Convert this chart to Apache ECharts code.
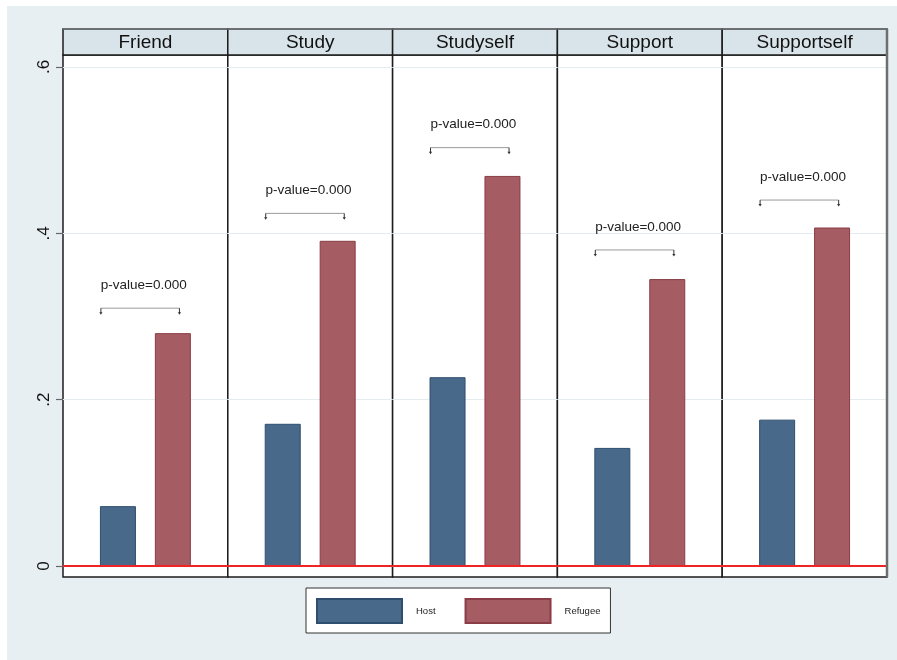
<!DOCTYPE html>
<html>
<head>
<meta charset="utf-8">
<script src="https://cdn.jsdelivr.net/npm/echarts@6/dist/echarts.min.js"></script>
<style>
  html, body { margin: 0; padding: 0; background: #ffffff; }
  #chart { width: 897px; height: 660px; }
</style>
</head>
<body>
<div id="chart"></div>
<script>
// Panels, one per support measure
const categories = ['Friend', 'Study', 'Studyself', 'Support', 'Supportself'];
// Group shares (Host vs Refugee)
const hostValues = [0.072, 0.171, 0.227, 0.142, 0.176];
const refugeeValues = [0.280, 0.391, 0.469, 0.345, 0.407];
// Height of the significance bracket above each pair, and its label
const bracketHeights = [0.310, 0.424, 0.503, 0.380, 0.440];
const bracketLabels = ['p-value=0.000', 'p-value=0.000', 'p-value=0.000', 'p-value=0.000', 'p-value=0.000'];
// Y axis ticks
const yTicks = [0, 0.2, 0.4, 0.6];
const yTickLabels = ['0', '.2', '.4', '.6'];
const groupNames = ['Host', 'Refugee'];

const FONT = '"Liberation Sans", Arial, Helvetica, sans-serif';
const PANEL_LEFT = 63;
const PANEL_W = 164.8;
const PANEL_TOP = 55;
const PANEL_BOTTOM = 83;
const HEADER_TOP = 29;
const Y_MIN = -0.0132;
const Y_MAX = 0.6144;
const HOST_COLOR = '#48698a', HOST_BORDER = '#2f4e6e';
const REF_COLOR = '#a55c62', REF_BORDER = '#8a3d47';

const slots = ['', groupNames[0], groupNames[1], ''];

const grids = [], xAxes = [], yAxes = [], series = [], graphics = [];

// page backdrop
graphics.push({
  type: 'rect', z: -10, silent: true,
  shape: { x: 7, y: 6, width: 890, height: 654 },
  style: { fill: '#e8eff2' }
});

categories.forEach((cat, i) => {
  const left = PANEL_LEFT + i * PANEL_W;
  grids.push({
    left: left, width: PANEL_W, top: PANEL_TOP, bottom: PANEL_BOTTOM,
    show: true, backgroundColor: '#ffffff',
    borderColor: '#1c1c1c', borderWidth: 1.5
  });
  xAxes.push({
    type: 'category', gridIndex: i, data: slots, boundaryGap: false,
    axisLine: { show: false }, axisTick: { show: false }, axisLabel: { show: false },
    splitLine: { show: false }
  });
  yAxes.push({
    type: 'value', gridIndex: i, min: Y_MIN, max: Y_MAX,
    axisLine: { show: false },
    axisTick: { show: i === 0, customValues: yTicks, length: 7, lineStyle: { color: '#666', width: 1.2 } },
    axisLabel: {
      show: i === 0, customValues: yTicks, rotate: 90, margin: 10,
      fontFamily: FONT, fontSize: 17, color: '#111',
      formatter: v => {
        const k = yTicks.findIndex(t => Math.abs(t - v) < 1e-6);
        return k >= 0 ? yTickLabels[k] : '';
      }
    },
    splitLine: { show: true, lineStyle: { color: '#e3ecef', width: 1 } }
  });

  series.push({
    name: groupNames[0], type: 'bar', xAxisIndex: i, yAxisIndex: i,
    barWidth: 36, barGap: '-100%', z: 3,
    itemStyle: { color: HOST_COLOR, borderColor: HOST_BORDER, borderWidth: 1 },
    data: ['-', hostValues[i], '-', '-'],
    markLine: {
      silent: true, symbol: 'none', z: 6,
      lineStyle: { color: '#f02424', width: 2, type: 'solid' },
      label: { show: false },
      data: [{ yAxis: 0 }]
    }
  });
  series.push({
    name: groupNames[1], type: 'bar', xAxisIndex: i, yAxisIndex: i,
    barWidth: 36, barGap: '-100%', z: 3,
    itemStyle: { color: REF_COLOR, borderColor: REF_BORDER, borderWidth: 1 },
    data: ['-', '-', refugeeValues[i], '-']
  });

  // significance bracket with down-arrow ends and p-value text
  series.push({
    type: 'custom', xAxisIndex: i, yAxisIndex: i, z: 4, silent: true,
    data: [[1, bracketHeights[i]]],
    renderItem: (params, api) => {
      const yv = api.value(1);
      // category slots are evenly spaced: interpolate between slot 0 and slot 1
      const a = api.coord([0, yv]);
      const b = api.coord([1, yv]);
      const step = b[0] - a[0];
      const xAt = t => a[0] + t * step;
      const y = a[1];
      const x0 = xAt(0.69), x1 = xAt(2.12), xm = xAt(1.47);
      const arrow = x => ([
        { type: 'line', shape: { x1: x, y1: y, x2: x, y2: y + 5 }, style: { stroke: '#333', lineWidth: 1 } },
        { type: 'polygon', shape: { points: [[x - 1.6, y + 4], [x + 1.6, y + 4], [x, y + 6.5]] }, style: { fill: '#333' } }
      ]);
      return {
        type: 'group',
        children: [
          { type: 'line', shape: { x1: x0, y1: y, x2: x1, y2: y }, style: { stroke: '#999', lineWidth: 1 } },
          ...arrow(x0), ...arrow(x1),
          {
            type: 'text', x: xm, y: y - 23,
            style: {
              text: bracketLabels[i], fontFamily: FONT, fontSize: 13.5,
              fill: '#222', align: 'center', verticalAlign: 'middle'
            }
          }
        ]
      };
    }
  });

  // panel header strip
  graphics.push({
    type: 'rect', z: 10, silent: true,
    shape: { x: left, y: HEADER_TOP, width: PANEL_W, height: PANEL_TOP - HEADER_TOP },
    style: { fill: '#d8e4ea', stroke: '#1c1c1c', lineWidth: 1.5 }
  });
  graphics.push({
    type: 'text', z: 11, silent: true,
    x: left + PANEL_W / 2, y: (HEADER_TOP + PANEL_TOP) / 2 + 1,
    style: { text: cat, fontFamily: FONT, fontSize: 19, fill: '#111', align: 'center', verticalAlign: 'middle' }
  });
});

// top edge of header strip and the outer right edge are drawn in grey
graphics.push({
  type: 'line', z: 12, silent: true,
  shape: { x1: PANEL_LEFT, y1: HEADER_TOP, x2: PANEL_LEFT + 5 * PANEL_W, y2: HEADER_TOP },
  style: { stroke: '#8a9095', lineWidth: 1.2 }
});
graphics.push({
  type: 'line', z: 12, silent: true,
  shape: { x1: PANEL_LEFT + 5 * PANEL_W, y1: HEADER_TOP, x2: PANEL_LEFT + 5 * PANEL_W, y2: 660 - PANEL_BOTTOM },
  style: { stroke: '#6e6e6e', lineWidth: 2.5 }
});

const chart = echarts.init(document.getElementById('chart'), null, { renderer: 'canvas' });
chart.setOption({
  backgroundColor: '#ffffff',
  animation: false,
  grid: grids,
  xAxis: xAxes,
  yAxis: yAxes,
  series: series,
  graphic: graphics,
  legend: {
    data: groupNames,
    left: 306, top: 588,
    orient: 'horizontal',
    backgroundColor: '#ffffff',
    borderColor: '#333', borderWidth: 1,
    padding: [10, 10, 9, 10],
    itemWidth: 85, itemHeight: 24, itemGap: 29,
    icon: 'rect',
    selectedMode: false,
    textStyle: { fontFamily: FONT, fontSize: 9.5, color: '#222', padding: [0, 0, 0, 9] }
  }
});
</script>
</body>
</html>
